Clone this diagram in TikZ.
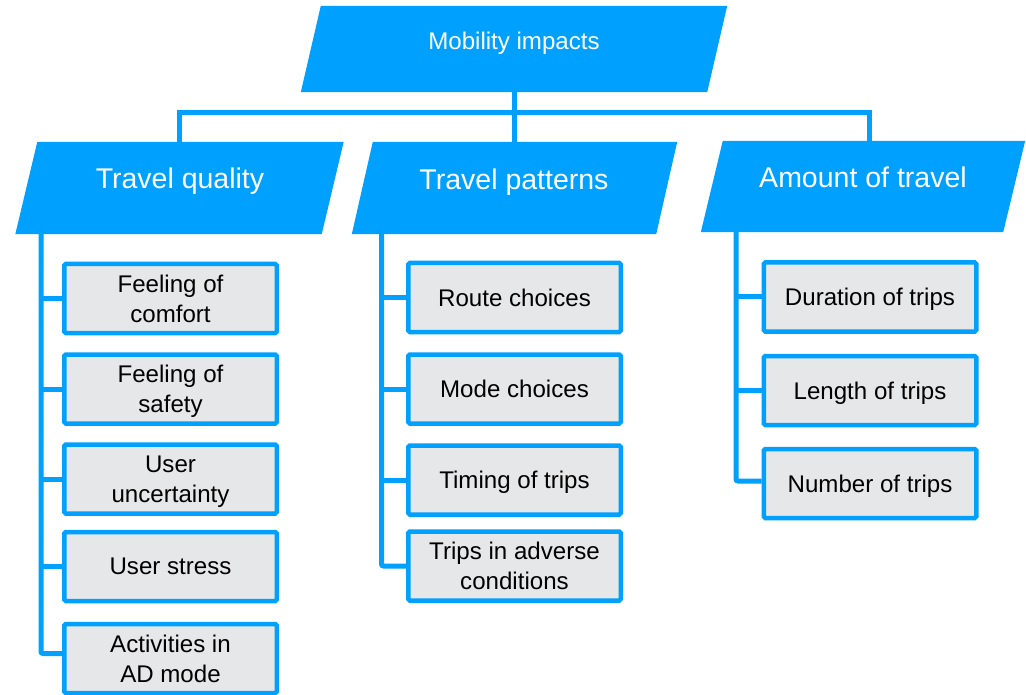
\documentclass[tikz,border=0pt]{standalone}
\usepackage{fontspec}
\setmainfont{Liberation Sans}
\usetikzlibrary{calc}
\definecolor{skyblue}{RGB}{0,160,255}
\definecolor{boxgray}{RGB}{230,231,233}

% fill a right-leaning parallelogram around a body node; #2 = half of the horizontal skew
\newcommand\parafill[2]{%
  \fill[skyblue] ($(#1.south west)+(-#2,0)$) -- ($(#1.south east)+(-#2,0)$)
    -- ($(#1.north east)+(#2,0)$) -- ($(#1.north west)+(#2,0)$) -- cycle;}

\begin{document}
\begin{tikzpicture}[x=1pt,y=-1pt,
  conn/.style={draw=skyblue, line width=5pt},
  pbody/.style n args={2}{rectangle, inner sep=0pt, minimum width=#1, minimum height=#2},
  toptext/.style={text=white, inner sep=0pt, anchor=base, font=\fontsize{24.1}{28}\selectfont},
  headtext/.style={text=white, inner sep=0pt, anchor=base, font=\fontsize{28.5}{34}\selectfont},
  leaf/.style={draw=skyblue, fill=boxgray, line width=4.5pt, rounded corners=1.5pt,
    minimum width=212.5pt, minimum height=69pt, inner sep=0pt, align=center,
    text depth=-3pt, font=\fontsize{24.1}{30}\selectfont}]
\useasboundingbox (0,0) rectangle (1026,695);

% bus between the top level and the three categories
\coordinate (busR) at (869,113);
\coordinate (atstem) at (869,141);

% parallelogram bodies
\node[pbody={406pt}{86pt}] (mob) at (514,49) {};
\node[pbody={306pt}{92pt}] (tq) at (179.5,188) {};
\node[pbody={304pt}{92pt}] (tp) at (514.5,188) {};
\node[pbody={302pt}{91pt}] (at) at (863,186.5) {};

% connectors from the top level
\draw[conn] (tq.north) |- (busR) -- (atstem);
\draw[conn] (mob.south) -- (mob.south |- tp.north);

\parafill{mob}{10}
\parafill{tq}{11}
\parafill{tp}{10.5}
\parafill{at}{11}

\node[toptext] (mobt) at (514,50) {Mobility impacts};
\node[headtext] (tqt) at (180,189) {Travel quality};
\node[headtext] (tpt) at (514,189.5) {Travel patterns};
\node[headtext] (att) at (863,188) {Amount of travel};

% leaves: travel quality
\node[leaf] (q1) at (170.5,298.5) {Feeling of\\comfort};
\node[leaf] (q2) at (170.5,389) {Feeling of\\safety};
\node[leaf] (q3) at (170.5,479) {User\\uncertainty};
\node[leaf] (q4) at (170.5,566.5) {User stress};
\node[leaf] (q5) at (170.5,658.5) {Activities in\\AD mode};

% leaves: travel patterns
\node[leaf] (p1) at (514.5,297.5) {Route choices};
\node[leaf] (p2) at (514.5,389) {Mode choices};
\node[leaf] (p3) at (514.5,480) {Timing of trips};
\node[leaf] (p4) at (514.5,566) {Trips in adverse\\conditions};

% leaves: amount of travel
\node[leaf] (a1) at (870,297) {Duration of trips};
\node[leaf] (a2) at (870,390.5) {Length of trips};
\node[leaf] (a3) at (870,483.5) {Number of trips};

% trunks below each category
\coordinate (tqtrunk) at (41,234);
\coordinate (tptrunk) at (381.5,234);
\coordinate (attrunk) at (736,232);

\draw[conn, rounded corners=2pt] (tqtrunk) |- ($(q5.west)+(0,-5)$);
\foreach \b in {q1,q2,q3,q4} \draw[conn] (tqtrunk |- \b.west) -- (\b.west);

\draw[conn, rounded corners=2pt] (tptrunk) |- (p4.west);
\foreach \b in {p1,p2,p3} \draw[conn] (tptrunk |- \b.west) -- (\b.west);

\draw[conn, rounded corners=2pt] (attrunk) |- ($(a3.west)+(0,-2.5)$);
\foreach \b in {a1,a2} \draw[conn] (attrunk |- \b.west) -- (\b.west);
\end{tikzpicture}
\end{document}
